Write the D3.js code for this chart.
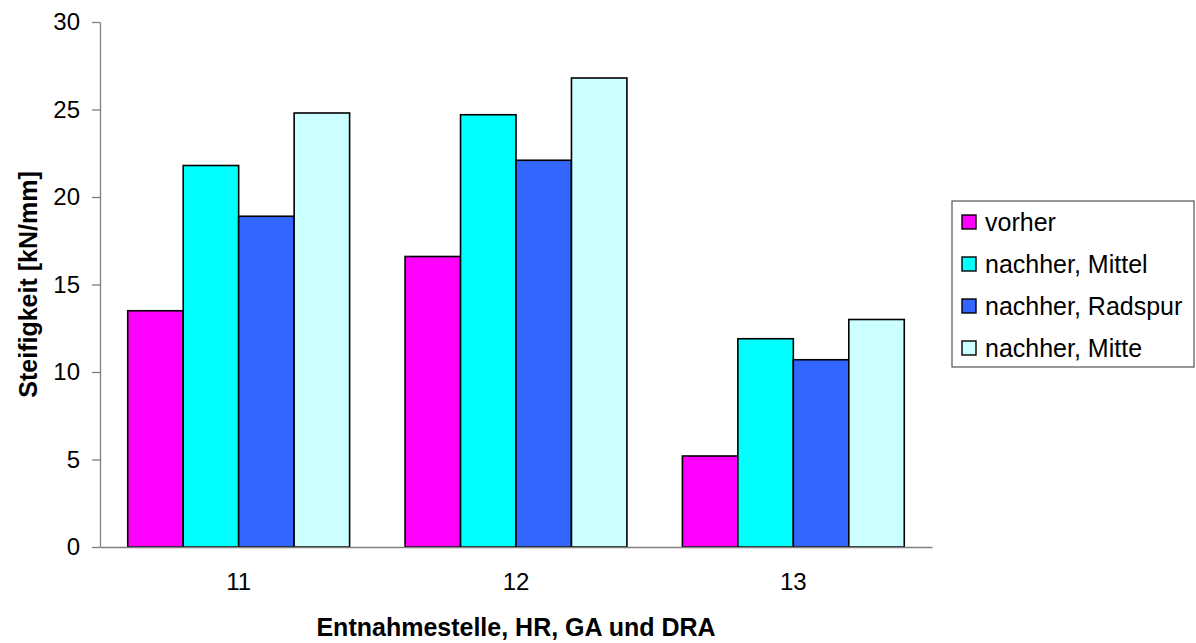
<!DOCTYPE html>
<html>
<head>
<meta charset="utf-8">
<script src="https://cdn.jsdelivr.net/npm/d3@7"></script>
<style>
  html, body { margin: 0; padding: 0; background: #fff; }
  svg { display: block; font-family: "Liberation Sans", Arial, sans-serif; }
</style>
</head>
<body>
<svg id="chart" width="1196" height="643"></svg>
<script>
// Sampling sites along the x axis
const categories = ["11", "12", "13"];
// Series names and colours
const seriesNames = ["vorher", "nachher, Mittel", "nachher, Radspur", "nachher, Mitte"];
const seriesColors = ["#FF00FF", "#00FFFF", "#3366FF", "#CCFFFF"];
// Stiffness in kN/mm per series, one value per site
const vorher = [13.5, 16.6, 5.2];
const nachherMittel = [21.8, 24.7, 11.9];
const nachherRadspur = [18.9, 22.1, 10.7];
const nachherMitte = [24.8, 26.8, 13.0];
const yTicks = [0, 5, 10, 15, 20, 25, 30];

const seriesValues = [vorher, nachherMittel, nachherRadspur, nachherMitte];
const TICK_FONT = 24;
const TITLE_FONT = 25;
const LEGEND_FONT = 25;

const svg = d3.select("#chart");
const plot = { left: 100, right: 932, top: 22, bottom: 547 };

const x = d3.scaleBand().domain(categories)
  .range([plot.left, plot.right]).paddingInner(0.2).paddingOuter(0.1);
const xs = d3.scaleBand().domain(seriesNames)
  .range([0, x.bandwidth()]);
const y = d3.scaleLinear().domain([0, 30]).range([plot.bottom, plot.top]);

// Bars
const groups = svg.append("g").selectAll("g")
  .data(categories).join("g")
  .attr("transform", d => `translate(${x(d)},0)`);

groups.selectAll("rect")
  .data((c, i) => seriesNames.map((s, k) => ({ s, k, v: seriesValues[k][i] })))
  .join("rect")
  .attr("x", d => xs(d.s))
  .attr("width", xs.bandwidth())
  .attr("y", d => y(d.v))
  .attr("height", d => y(0) - y(d.v))
  .attr("fill", d => seriesColors[d.k])
  .attr("stroke", "#000")
  .attr("stroke-width", 1.6);

// Y axis
const yAxis = svg.append("g")
  .attr("transform", `translate(${plot.left},0)`)
  .call(d3.axisLeft(y).tickValues(yTicks).tickSize(8).tickPadding(12).tickSizeOuter(0));
yAxis.select(".domain").attr("stroke", "#808080").attr("stroke-width", 1.3);
yAxis.selectAll(".tick line").attr("stroke", "#808080").attr("stroke-width", 1.3);
yAxis.selectAll(".tick text")
  .attr("font-size", TICK_FONT).attr("fill", "#000")
  .attr("font-family", "Liberation Sans, Arial, sans-serif");

// X axis
const xAxis = svg.append("g")
  .attr("transform", `translate(0,${plot.bottom})`)
  .call(d3.axisBottom(x).tickSize(0).tickPadding(26).tickSizeOuter(0));
xAxis.select(".domain").attr("stroke", "#808080").attr("stroke-width", 1.3);
xAxis.selectAll(".tick text")
  .attr("font-size", TICK_FONT).attr("fill", "#000")
  .attr("font-family", "Liberation Sans, Arial, sans-serif");

// Axis titles
svg.append("text")
  .attr("x", (plot.left + plot.right) / 2)
  .attr("y", 636)
  .attr("text-anchor", "middle")
  .attr("font-weight", "bold")
  .attr("font-size", TITLE_FONT)
  .text("Entnahmestelle, HR, GA und DRA");

svg.append("text")
  .attr("transform", `translate(37,${(plot.top + plot.bottom) / 2}) rotate(-90)`)
  .attr("text-anchor", "middle")
  .attr("font-weight", "bold")
  .attr("font-size", TITLE_FONT)
  .text("Steifigkeit [kN/mm]");

// Legend
const legend = svg.append("g").attr("transform", "translate(952,201)");
legend.append("rect")
  .attr("width", 242).attr("height", 166)
  .attr("fill", "#fff").attr("stroke", "#555").attr("stroke-width", 1.2);
const items = legend.selectAll("g.item")
  .data(seriesNames).join("g")
  .attr("class", "item")
  .attr("transform", (d, i) => `translate(10,${21 + i * 42})`);
items.append("rect")
  .attr("x", 0).attr("y", -7).attr("width", 14).attr("height", 14)
  .attr("fill", (d, i) => seriesColors[i])
  .attr("stroke", "#000").attr("stroke-width", 1.4);
items.append("text")
  .attr("x", 23).attr("y", 0).attr("dy", "0.35em")
  .attr("font-size", LEGEND_FONT)
  .text(d => d);
</script>
</body>
</html>
